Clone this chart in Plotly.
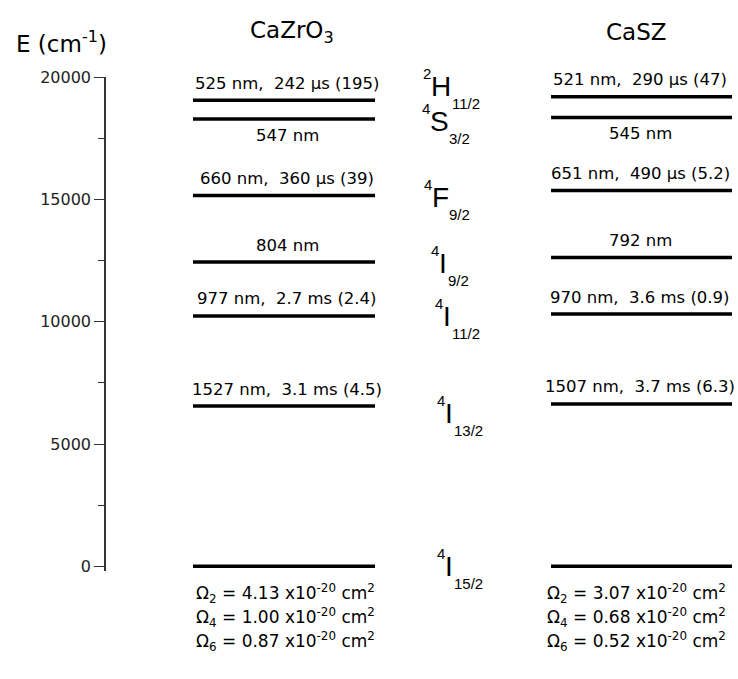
import plotly.graph_objects as go

# ---------------- data ----------------
samples = ["CaZrO<sub>3</sub>", "CaSZ"]
terms = ["4I15/2", "4I13/2", "4I11/2", "4I9/2", "4F9/2", "4S3/2", "2H11/2"]
term_mult = ["4", "4", "4", "4", "4", "4", "2"]
term_letter = ["I", "I", "I", "I", "F", "S", "H"]
term_j = ["15/2", "13/2", "11/2", "9/2", "9/2", "3/2", "11/2"]

energy_cazro3 = [0, 6549, 10235, 12438, 15152, 18282, 19048]
energy_casz = [0, 6636, 10309, 12626, 15361, 18349, 19194]

label_cazro3 = ["", "1527 nm,  3.1 ms (4.5)", "977 nm,  2.7 ms (2.4)", "804 nm",
                "660 nm,  360 \u03bcs (39)", "547 nm", "525 nm,  242 \u03bcs (195)"]
label_casz = ["", "1507 nm,  3.7 ms (6.3)", "970 nm,  3.6 ms (0.9)", "792 nm",
              "651 nm,  490 \u03bcs (5.2)", "545 nm", "521 nm,  290 \u03bcs (47)"]
label_below = [False, False, False, False, False, True, False]

omega_names = ["2", "4", "6"]
omega_cazro3 = ["4.13", "1.00", "0.87"]
omega_casz = ["3.07", "0.68", "0.52"]

y_ticks = [0, 5000, 10000, 15000, 20000]

# ---------------- layout constants ----------------
W, H = 738, 679
ML, MR, MT, MB = 106, 0, 77, 108
FONT = "DejaVu Sans"
col_x = [(193, 375), (551, 732)]
text_cx = [287, 640]
omega_cx = [285, 636]

fig = go.Figure()

for (x0, x1), energies in zip(col_x, [energy_cazro3, energy_casz]):
    for e in energies:
        fig.add_trace(go.Scatter(x=[x0, x1], y=[e, e], mode="lines",
                                 line=dict(color="black", width=3.5),
                                 hoverinfo="skip", showlegend=False))

ann = []
# level labels
for ci, (labels, energies) in enumerate([(label_cazro3, energy_cazro3), (label_casz, energy_casz)]):
    for lab, e, below in zip(labels, energies, label_below):
        if not lab:
            continue
        ann.append(dict(x=text_cx[ci], y=e, xref="x", yref="y", text=lab, showarrow=False,
                        xanchor="center", yanchor="middle", yshift=(-16 if below else 17),
                        font=dict(family=FONT, size=16.5, color="black")))

# term labels
term_pos = {  # letter centre x (px), vertical offset from level (px)
    "2H11/2": (441, 14), "4S3/2": (439, -2), "4F9/2": (440, -2),
    "4I9/2": (443, -1), "4I11/2": (447, -1), "4I13/2": (449, -7), "4I15/2": (449, 0),
}
adv = {"H": 20, "S": 18, "F": 16, "I": 8}
for t, m, L, j, e in zip(terms, term_mult, term_letter, term_j, energy_cazro3):
    cx, dy = term_pos[t]
    w = adv[L]
    ann.append(dict(x=cx, y=e, xref="x", yref="y", text=L, showarrow=False,
                    xanchor="center", yanchor="middle", yshift=dy,
                    font=dict(family="Liberation Sans", size=28, color="black")))
    ann.append(dict(x=cx - w / 2, y=e, xref="x", yref="y", text=m, showarrow=False,
                    xanchor="right", yanchor="middle", yshift=dy + 13, xshift=2,
                    font=dict(family="Liberation Sans", size=15, color="black")))
    ann.append(dict(x=cx + w / 2, y=e, xref="x", yref="y", text=j, showarrow=False,
                    xanchor="left", yanchor="middle", yshift=dy - 17, xshift=-1,
                    font=dict(family="Liberation Sans", size=15, color="black")))

# omega rows (anchored to ground level)
for ci, vals in enumerate([omega_cazro3, omega_casz]):
    for k, (n, v) in enumerate(zip(omega_names, vals)):
        txt = "\u03a9<sub>%s</sub> = %s x10<sup>-20</sup> cm<sup>2</sup>" % (n, v)
        ann.append(dict(x=omega_cx[ci], y=0, xref="x", yref="y", text=txt, showarrow=False,
                        xanchor="center", yanchor="middle", yshift=-(27 + 24 * k),
                        font=dict(family=FONT, size=17, color="black")))

# titles
def px_x(px):
    return (px - ML) / (W - ML - MR)

def px_y(py):
    return (H - MB - py) / (H - MT - MB)

for name, cx in zip(samples, [292, 636]):
    ann.append(dict(x=px_x(cx), y=px_y(32), xref="paper", yref="paper", text=name,
                    showarrow=False, xanchor="center", yanchor="middle",
                    font=dict(family=FONT, size=23, color="black")))
ann.append(dict(x=px_x(61), y=px_y(42), xref="paper", yref="paper",
                text="E (cm<sup>-1</sup>)", showarrow=False, xanchor="center", yanchor="middle",
                font=dict(family=FONT, size=23, color="black")))

fig.update_layout(
    width=W, height=H, margin=dict(l=ML, r=MR, t=MT, b=MB),
    plot_bgcolor="white", paper_bgcolor="white",
    annotations=ann, showlegend=False,
    xaxis=dict(range=[ML, W - MR], visible=False, fixedrange=True),
    yaxis=dict(range=[-190, 20000], showgrid=False, zeroline=False,
               showline=True, linecolor="#333", linewidth=1.5,
               ticks="outside", ticklen=10, tickwidth=1.3, tickcolor="#333",
               tickvals=y_ticks, ticktext=[str(v) for v in y_ticks],
               tickfont=dict(family=FONT, size=16, color="#222"),
               minor=dict(tickvals=[2500, 7500, 12500, 17500], ticks="outside",
                          ticklen=6, tickwidth=1.3, tickcolor="#333"),
               fixedrange=True),
)

fig.write_html("out.html")
